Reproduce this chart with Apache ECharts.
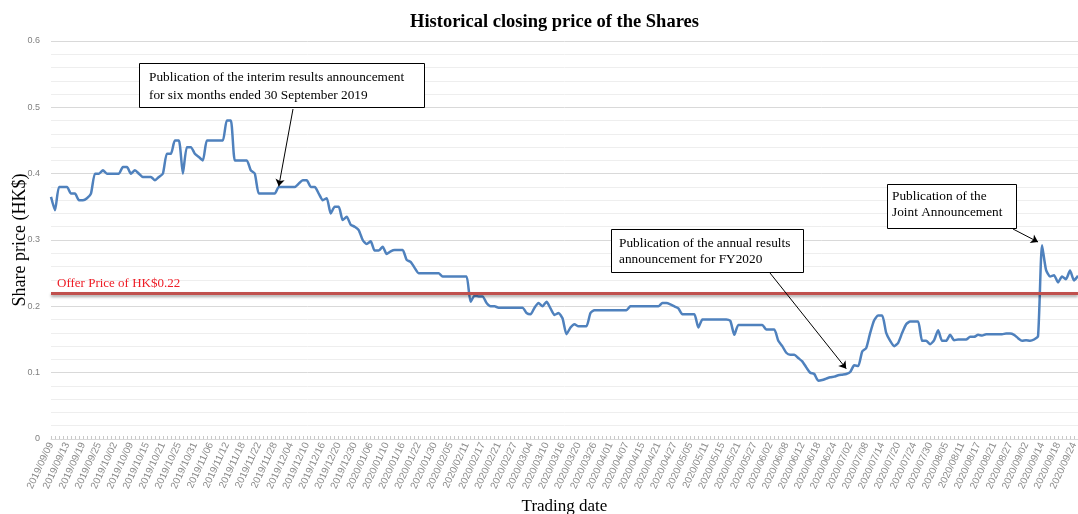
<!DOCTYPE html>
<html>
<head>
<meta charset="utf-8">
<script src="https://cdn.jsdelivr.net/npm/echarts@6/dist/echarts.min.js"></script>
<style>
  html, body { margin: 0; padding: 0; background: #fff; }
  #chart { width: 1078px; height: 514px; }
</style>
</head>
<body>
<div id="chart"></div>
<script>
// trading days shown on the category axis (a label every 4th day)
const tradingDates = [
  '2019/09/09','2019/09/10','2019/09/11','2019/09/12','2019/09/13','2019/09/16','2019/09/17','2019/09/18','2019/09/19','2019/09/20',
  '2019/09/23','2019/09/24','2019/09/25','2019/09/26','2019/09/27','2019/09/30','2019/10/02','2019/10/03','2019/10/04','2019/10/08',
  '2019/10/09','2019/10/10','2019/10/11','2019/10/14','2019/10/15','2019/10/16','2019/10/17','2019/10/18','2019/10/21','2019/10/22',
  '2019/10/23','2019/10/24','2019/10/25','2019/10/28','2019/10/29','2019/10/30','2019/10/31','2019/11/01','2019/11/04','2019/11/05',
  '2019/11/06','2019/11/07','2019/11/08','2019/11/11','2019/11/12','2019/11/13','2019/11/14','2019/11/15','2019/11/18','2019/11/19',
  '2019/11/20','2019/11/21','2019/11/22','2019/11/25','2019/11/26','2019/11/27','2019/11/28','2019/11/29','2019/12/02','2019/12/03',
  '2019/12/04','2019/12/05','2019/12/06','2019/12/09','2019/12/10','2019/12/11','2019/12/12','2019/12/13','2019/12/16','2019/12/17',
  '2019/12/18','2019/12/19','2019/12/20','2019/12/23','2019/12/24','2019/12/27','2019/12/30','2019/12/31','2020/01/02','2020/01/03',
  '2020/01/06','2020/01/07','2020/01/08','2020/01/09','2020/01/10','2020/01/13','2020/01/14','2020/01/15','2020/01/16','2020/01/17',
  '2020/01/20','2020/01/21','2020/01/22','2020/01/23','2020/01/24','2020/01/29','2020/01/30','2020/01/31','2020/02/03','2020/02/04',
  '2020/02/05','2020/02/06','2020/02/07','2020/02/10','2020/02/11','2020/02/12','2020/02/13','2020/02/14','2020/02/17','2020/02/18',
  '2020/02/19','2020/02/20','2020/02/21','2020/02/24','2020/02/25','2020/02/26','2020/02/27','2020/02/28','2020/03/02','2020/03/03',
  '2020/03/04','2020/03/05','2020/03/06','2020/03/09','2020/03/10','2020/03/11','2020/03/12','2020/03/13','2020/03/16','2020/03/17',
  '2020/03/18','2020/03/19','2020/03/20','2020/03/23','2020/03/24','2020/03/25','2020/03/26','2020/03/27','2020/03/30','2020/03/31',
  '2020/04/01','2020/04/02','2020/04/03','2020/04/06','2020/04/07','2020/04/08','2020/04/09','2020/04/14','2020/04/15','2020/04/16',
  '2020/04/17','2020/04/20','2020/04/21','2020/04/22','2020/04/23','2020/04/24','2020/04/27','2020/04/28','2020/04/29','2020/05/04',
  '2020/05/05','2020/05/06','2020/05/07','2020/05/08','2020/05/11','2020/05/12','2020/05/13','2020/05/14','2020/05/15','2020/05/18',
  '2020/05/19','2020/05/20','2020/05/21','2020/05/22','2020/05/25','2020/05/26','2020/05/27','2020/05/28','2020/05/29','2020/06/01',
  '2020/06/02','2020/06/03','2020/06/04','2020/06/05','2020/06/08','2020/06/09','2020/06/10','2020/06/11','2020/06/12','2020/06/15',
  '2020/06/16','2020/06/17','2020/06/18','2020/06/19','2020/06/22','2020/06/23','2020/06/24','2020/06/26','2020/06/29','2020/06/30',
  '2020/07/02','2020/07/03','2020/07/06','2020/07/07','2020/07/08','2020/07/09','2020/07/10','2020/07/13','2020/07/14','2020/07/15',
  '2020/07/16','2020/07/17','2020/07/20','2020/07/21','2020/07/22','2020/07/23','2020/07/24','2020/07/27','2020/07/28','2020/07/29',
  '2020/07/30','2020/07/31','2020/08/03','2020/08/04','2020/08/05','2020/08/06','2020/08/07','2020/08/10','2020/08/11','2020/08/12',
  '2020/08/13','2020/08/14','2020/08/17','2020/08/18','2020/08/19','2020/08/20','2020/08/21','2020/08/24','2020/08/25','2020/08/26',
  '2020/08/27','2020/08/28','2020/08/31','2020/09/01','2020/09/02','2020/09/03','2020/09/04','2020/09/07','2020/09/14','2020/09/15',
  '2020/09/16','2020/09/17','2020/09/18','2020/09/21','2020/09/22','2020/09/23','2020/09/24','2020/09/25'
];

// closing price (HK$)
const closingPrices = [
  0.365,0.345,0.38,0.38,0.38,0.37,0.37,0.36,0.36,0.363,
  0.37,0.40,0.40,0.405,0.40,0.40,0.40,0.40,0.41,0.41,
  0.40,0.405,0.40,0.395,0.395,0.395,0.39,0.395,0.40,0.43,
  0.43,0.45,0.45,0.40,0.44,0.44,0.43,0.425,0.42,0.45,
  0.45,0.45,0.45,0.45,0.48,0.48,0.42,0.42,0.42,0.42,
  0.405,0.40,0.37,0.37,0.37,0.37,0.37,0.38,0.38,0.38,
  0.38,0.38,0.385,0.39,0.39,0.38,0.38,0.37,0.36,0.363,
  0.34,0.35,0.35,0.33,0.335,0.323,0.32,0.315,0.30,0.294,
  0.298,0.284,0.284,0.29,0.279,0.283,0.285,0.285,0.285,0.27,
  0.267,0.258,0.25,0.25,0.25,0.25,0.25,0.25,0.245,0.245,
  0.245,0.245,0.245,0.245,0.245,0.207,0.216,0.215,0.215,0.205,
  0.20,0.20,0.198,0.198,0.198,0.198,0.198,0.198,0.198,0.19,
  0.188,0.198,0.205,0.20,0.207,0.197,0.187,0.19,0.182,0.158,
  0.168,0.173,0.17,0.17,0.17,0.19,0.194,0.194,0.194,0.194,
  0.194,0.194,0.194,0.194,0.194,0.20,0.20,0.20,0.20,0.20,
  0.20,0.20,0.20,0.205,0.205,0.203,0.20,0.197,0.188,0.188,
  0.188,0.188,0.168,0.18,0.18,0.18,0.18,0.18,0.18,0.18,
  0.178,0.157,0.172,0.172,0.172,0.172,0.172,0.172,0.172,0.165,
  0.165,0.165,0.148,0.14,0.13,0.127,0.127,0.122,0.117,0.108,
  0.10,0.098,0.088,0.089,0.091,0.093,0.094,0.096,0.097,0.098,
  0.101,0.111,0.11,0.132,0.137,0.16,0.179,0.186,0.186,0.16,
  0.148,0.14,0.145,0.16,0.173,0.177,0.177,0.177,0.148,0.148,
  0.143,0.149,0.164,0.148,0.148,0.157,0.149,0.15,0.15,0.15,
  0.154,0.154,0.157,0.156,0.158,0.158,0.158,0.158,0.158,0.159,
  0.159,0.157,0.152,0.148,0.149,0.148,0.15,0.155,0.292,0.255,
  0.245,0.247,0.236,0.245,0.241,0.254,0.239,0.246
];

const offerPrice = 0.22;

// annotation arrows point at these trading days
const interimDate = '2019/11/29';
const annualDate = '2020/06/30';
const jointDate = '2020/09/07';

const chartDom = document.getElementById('chart');
const myChart = echarts.init(chartDom);

const serif = '"Liberation Serif", "Times New Roman", serif';
const sans = '"Liberation Sans", Arial, sans-serif';

const arrowStyle = { color: '#000', width: 1, type: 'solid' };

const option = {
  animation: false,
  title: {
    text: 'Historical closing price of the Shares',
    left: 405,
    top: 8,
    textStyle: { fontFamily: serif, fontSize: 18.5, fontWeight: 'bold', color: '#000' }
  },
  grid: { left: 51, right: 0, top: 41, bottom: 75, outerBoundsMode: 'none', containLabel: false },
  xAxis: {
    type: 'category',
    data: tradingDates,
    boundaryGap: false,
    name: 'Trading date',
    nameLocation: 'middle',
    nameGap: 59,
    nameMoveOverlap: false,
    nameTextStyle: { fontFamily: serif, fontSize: 17, color: '#000' },
    axisLine: { lineStyle: { color: '#d9d9d9' } },
    axisTick: { show: true, interval: 0, length: 3, inside: true, lineStyle: { color: '#c8c8c8' } },
    axisLabel: { interval: 3, rotate: 65, fontSize: 10, color: '#8a8a8a', margin: 4, fontFamily: sans },
    splitLine: { show: false }
  },
  yAxis: {
    type: 'value',
    min: 0,
    max: 0.6,
    interval: 0.1,
    name: 'Share price (HK$)',
    nameLocation: 'middle',
    nameGap: 22,
    nameMoveOverlap: false,
    nameTextStyle: { fontFamily: serif, fontSize: 18, color: '#000' },
    axisLine: { show: false },
    axisTick: { show: false },
    axisLabel: { fontSize: 9, color: '#808080', margin: 11, fontFamily: sans },
    splitLine: { lineStyle: { color: '#d9d9d9', width: 1 } },
    minorTick: { show: false, splitNumber: 5 },
    minorSplitLine: { show: true, lineStyle: { color: '#eeeeee', width: 1 } }
  },
  series: [
    {
      name: 'Closing price',
      type: 'line',
      data: closingPrices,
      showSymbol: false,
      symbol: 'none',
      smooth: 0.2,
      lineStyle: { color: '#4f81bd', width: 2.5 },
      itemStyle: { color: '#4f81bd' },
      markLine: {
        silent: true,
        animation: false,
        symbol: 'none',
        label: { show: false },
        data: [
          {
            yAxis: offerPrice,
            lineStyle: {
              color: '#c0504d', width: 3, type: 'solid',
              shadowColor: 'rgba(0,0,0,0.35)', shadowBlur: 3, shadowOffsetY: 2
            },
            label: {
              show: true,
              position: 'insideStartTop',
              formatter: 'Offer Price of HK$0.22',
              color: '#ee1c25',
              fontFamily: serif,
              fontSize: 13,
              distance: [6, 3]
            }
          },
          [
            { x: 293, y: 109, symbol: 'none', lineStyle: arrowStyle },
            { coord: [interimDate, 0.381], symbol: 'arrow', symbolSize: 7 }
          ],
          [
            { x: 770, y: 273, symbol: 'none', lineStyle: arrowStyle },
            { coord: [annualDate, 0.106], symbol: 'arrow', symbolSize: 7 }
          ],
          [
            { x: 1013, y: 229, symbol: 'none', lineStyle: arrowStyle },
            { coord: [jointDate, 0.297], symbol: 'arrow', symbolSize: 7 }
          ]
        ]
      }
    }
  ],
  graphic: [
    {
      type: 'rect', z: 100,
      shape: { x: 139.5, y: 63.5, width: 285, height: 44 },
      style: { fill: '#fff', stroke: '#000', lineWidth: 1 }
    },
    {
      type: 'text', z: 101, x: 149, y: 69,
      style: {
        text: 'Publication of the interim results announcement\nfor six months ended 30 September 2019',
        fontFamily: serif, fontSize: 13.3, lineHeight: 18, fill: '#000', verticalAlign: 'top'
      }
    },
    {
      type: 'rect', z: 100,
      shape: { x: 611.5, y: 229.5, width: 192, height: 43 },
      style: { fill: '#fff', stroke: '#000', lineWidth: 1 }
    },
    {
      type: 'text', z: 101, x: 619, y: 236,
      style: {
        text: 'Publication of the annual results\nannouncement for FY2020',
        fontFamily: serif, fontSize: 13.3, lineHeight: 16, fill: '#000', verticalAlign: 'top'
      }
    },
    {
      type: 'rect', z: 100,
      shape: { x: 887.5, y: 184.5, width: 129, height: 44 },
      style: { fill: '#fff', stroke: '#000', lineWidth: 1 }
    },
    {
      type: 'text', z: 101, x: 892, y: 189,
      style: {
        text: 'Publication of the\nJoint Announcement',
        fontFamily: serif, fontSize: 13.3, lineHeight: 16, fill: '#000', verticalAlign: 'top'
      }
    }
  ]
};

option && myChart.setOption(option);
</script>
</body>
</html>
